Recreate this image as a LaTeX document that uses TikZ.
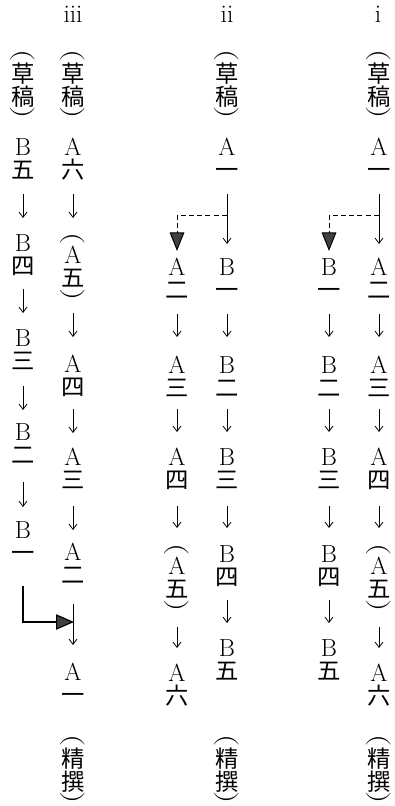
\documentclass[tikz,border=0pt]{standalone}
\usepackage{fontspec}
\usepackage{graphicx}
\newfontfamily\jpfont{Noto Sans CJK JP}
\usetikzlibrary{arrows.meta}
\newcommand\latf{\fontsize{18.5}{18.5}\selectfont}
\newcommand\kanf{\jpfont\fontsize{17.5}{17.5}\selectfont}
\newcommand\rowL[1]{\hbox to 24pt{\hss\latf\smash{#1}\rule{0pt}{12.6pt}\hss}}
\newcommand\rowK[1]{\hbox to 24pt{\hss\kanf\smash{#1}\rule[-1.2pt]{0pt}{15.6pt}\hss}}
\newcommand\rowO{\hbox to 24pt{\hss\smash{\raisebox{7.8pt}{\scalebox{1}[1.4]{\rotatebox{-90}{\latf(}}}}\rule{0pt}{5.5pt}\hss}}
\newcommand\rowC{\hbox to 24pt{\hss\smash{\raisebox{7.8pt}{\scalebox{1}[1.4]{\rotatebox{-90}{\latf)}}}}\rule{0pt}{5.5pt}\hss}}
\newcommand\AB[2]{\vbox{\offinterlineskip\rowL{#1}\kern2.8pt\rowK{#2}}}
\newcommand\PAB[2]{\vbox{\offinterlineskip\rowO\kern2.5pt\rowL{#1}\kern2.8pt\rowK{#2}\kern2.5pt\rowC}}
\newcommand\PKK[2]{\vbox{\offinterlineskip\rowO\kern2pt\rowK{#1}\kern2pt\rowK{#2}\kern2pt\rowC}}
\tikzset{
  lab/.style={anchor=north,inner sep=0pt,outer sep=0pt},
  numl/.style={anchor=base,inner sep=0pt,font=\fontsize{19}{19}\selectfont},
  ar/.style 2 args={draw,line width=0.6pt,-{Straight Barb[length=4pt,width=6pt]},shorten <=#1*0.75pt,shorten >=#2*0.75pt},
  dsh/.style={draw,line width=0.75pt,dash pattern=on 3.8pt off 2.4pt,-{Triangle[length=14pt,width=11pt,fill=black!75]},shorten >=6pt},
  lcon/.style={draw,line width=0.9pt,-{Triangle[length=13.5pt,width=11.5pt,fill=black!75]},shorten <=17pt}
}
\begin{document}
\begin{tikzpicture}[x=0.75pt,y=-0.75pt]
\useasboundingbox (0,0) rectangle (394,806);
% column headings
\node[numl] (liii) at (73,23) {iii};
\node[numl] (lii) at (227,23) {ii};
\node[numl] (li) at (378,23) {i};
% ---- iii ----
\node[lab] (c3b0) at (23,53) {\PKK{草}{稿}};
\node[lab] (c3b5) at (23,139) {\AB{B}{五}};
\node[lab] (c3b4) at (23,235) {\AB{B}{四}};
\node[lab] (c3b3) at (23,330) {\AB{B}{三}};
\node[lab] (c3b2) at (23,424) {\AB{B}{二}};
\node[lab] (c3b1) at (23,522) {\AB{B}{一}};
\node[lab] (c3a0) at (73,53) {\PKK{草}{稿}};
\node[lab] (c3a6) at (73,139) {\AB{A}{六}};
\node[lab] (c3a5) at (73,236) {\PAB{A}{五}};
\node[lab] (c3a4) at (73,356) {\AB{A}{四}};
\node[lab] (c3a3) at (73,449) {\AB{A}{三}};
\node[lab] (c3a2) at (73,544) {\AB{A}{二}};
\node[lab] (c3a1) at (73,664) {\AB{A}{一}};
\node[lab] (c3z) at (73,738) {\PKK{精}{撰}};
% ---- ii ----
\node[lab] (c2r0) at (227,53) {\PKK{草}{稿}};
\node[lab] (c2a1) at (227,139) {\AB{A}{一}};
\node[lab] (c2b1) at (227,259) {\AB{B}{一}};
\node[lab] (c2b2) at (227,357) {\AB{B}{二}};
\node[lab] (c2b3) at (227,449) {\AB{B}{三}};
\node[lab] (c2b4) at (227,546) {\AB{B}{四}};
\node[lab] (c2b5) at (227,640) {\AB{B}{五}};
\node[lab] (c2z) at (227,738) {\PKK{精}{撰}};
\node[lab] (c2a2) at (177,259) {\AB{A}{二}};
\node[lab] (c2a3) at (177,357) {\AB{A}{三}};
\node[lab] (c2a4) at (177,449) {\AB{A}{四}};
\node[lab] (c2a5) at (177,547) {\PAB{A}{五}};
\node[lab] (c2a6) at (177,665) {\AB{A}{六}};
% ---- i ----
\node[lab] (c1r0) at (379,53) {\PKK{草}{稿}};
\node[lab] (c1a1) at (379,139) {\AB{A}{一}};
\node[lab] (c1a2) at (379,259) {\AB{A}{二}};
\node[lab] (c1a3) at (379,357) {\AB{A}{三}};
\node[lab] (c1a4) at (379,449) {\AB{A}{四}};
\node[lab] (c1a5) at (379,547) {\PAB{A}{五}};
\node[lab] (c1a6) at (379,665) {\AB{A}{六}};
\node[lab] (c1z) at (379,738) {\PKK{精}{撰}};
\node[lab] (c1b1) at (329,259) {\AB{B}{一}};
\node[lab] (c1b2) at (329,357) {\AB{B}{二}};
\node[lab] (c1b3) at (329,449) {\AB{B}{三}};
\node[lab] (c1b4) at (329,546) {\AB{B}{四}};
\node[lab] (c1b5) at (329,640) {\AB{B}{五}};
% ---- arrows iii ----
\draw[ar={14}{17}] (c3b5) -- (c3b4);
\draw[ar={13}{17}] (c3b4) -- (c3b3);
\draw[ar={15}{14}] (c3b3) -- (c3b2);
\draw[ar={17}{15}] (c3b2) -- (c3b1);
\draw[ar={14}{18}] (c3a6) -- (c3a5);
\draw[ar={14}{19}] (c3a5) -- (c3a4);
\draw[ar={12}{16}] (c3a4) -- (c3a3);
\draw[ar={16}{14}] (c3a3) -- (c3a2);
\draw[ar={19}{19}] (c3a2) -- (c3a1);
\coordinate (mg3) at (74,622);
\draw[lcon] (c3b1) |- (mg3);
% ---- arrows ii ----
\draw[ar={14}{15}] (c2a1) -- (c2b1);
\draw[ar={14}{20}] (c2b1) -- (c2b2);
\draw[ar={11}{17}] (c2b2) -- (c2b3);
\draw[ar={16}{18}] (c2b3) -- (c2b4);
\draw[ar={13}{17}] (c2b4) -- (c2b5);
\draw[ar={14}{20}] (c2a2) -- (c2a3);
\draw[ar={11}{17}] (c2a3) -- (c2a4);
\draw[ar={16}{19}] (c2a4) -- (c2a5);
\draw[ar={17}{17}] (c2a5) -- (c2a6);
\coordinate (br2) at (227,215);
\draw[dsh] (br2) -| (c2a2);
% ---- arrows i ----
\draw[ar={14}{15}] (c1a1) -- (c1a2);
\draw[ar={14}{20}] (c1a2) -- (c1a3);
\draw[ar={11}{17}] (c1a3) -- (c1a4);
\draw[ar={16}{19}] (c1a4) -- (c1a5);
\draw[ar={17}{17}] (c1a5) -- (c1a6);
\draw[ar={14}{20}] (c1b1) -- (c1b2);
\draw[ar={11}{17}] (c1b2) -- (c1b3);
\draw[ar={16}{18}] (c1b3) -- (c1b4);
\draw[ar={13}{17}] (c1b4) -- (c1b5);
\coordinate (br1) at (379,215);
\draw[dsh] (br1) -| (c1b1);
\end{tikzpicture}
\end{document}
